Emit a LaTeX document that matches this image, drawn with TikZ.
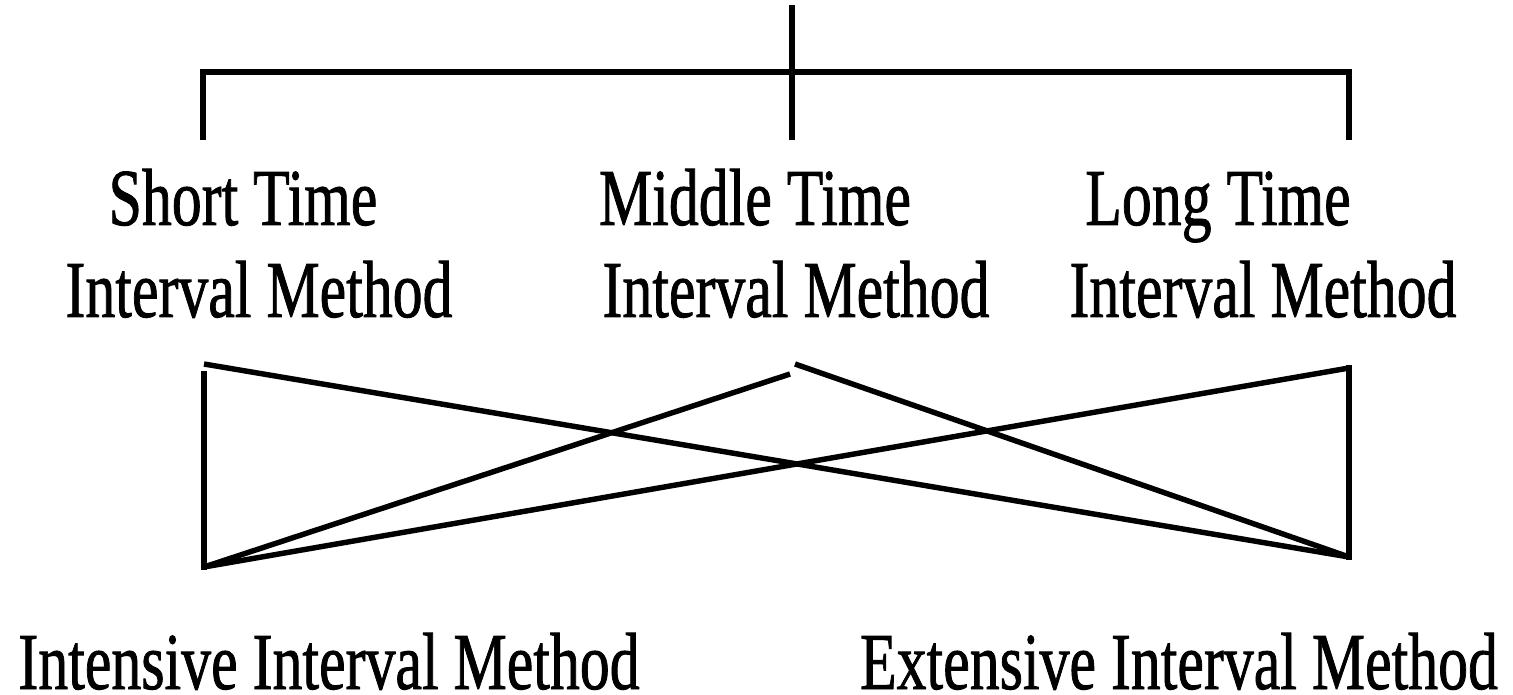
\documentclass[tikz,border=0pt]{standalone}
\usepackage{fontspec}
\setmainfont[FakeBold=1.2]{Liberation Serif}
\usepackage{graphicx}
\usetikzlibrary{calc}
\usetikzlibrary{positioning}

\newcommand{\narrowtxt}[1]{\scalebox{0.74}[1]{#1}}

\tikzset{
	bar/.style={line width=2.9pt, line cap=rect},
	cross/.style={line width=3.1pt},
	lbl/.style={inner sep=0pt, anchor=base, font=\fontsize{46}{50}\selectfont},
}

\begin{document}
\begin{tikzpicture}[x=0.02cm, y=-0.02cm]
			\useasboundingbox (0,0) rectangle (1513,695);

			% upper bracket
			\coordinate (top) at (792,8);
			\coordinate (hub) at (792,72);
			\coordinate (barL) at (203,72);
			\coordinate (barR) at (1349,72);
			\coordinate (legL) at (203,137);
			\coordinate (legM) at (792,137);
			\coordinate (legR) at (1349,137);
			\draw[bar] (legL) -- (barL) -- (barR) -- (legR);
			\draw[bar] (top) -- (legM);

			% time interval labels
			\node[lbl] (short1) at (243,225) {\narrowtxt{Short Time}};
			\node[lbl] (short2) at (259,317) {\narrowtxt{Interval Method}};
			\node[lbl] (middle1) at (755,225) {\narrowtxt{Middle Time}};
			\node[lbl] (middle2) at (796,317) {\narrowtxt{Interval Method}};
			\node[lbl] (long1) at (1218,225) {\narrowtxt{Long Time}};
			\node[lbl] (long2) at (1263,317) {\narrowtxt{Interval Method}};

			% crossing links
			\coordinate (shortA) at (204,364);
			\coordinate (shortV) at (204,374);
			\coordinate (middleB) at (790,374);
			\coordinate (middleD) at (795,364);
			\coordinate (longC) at (1349,368);
			\coordinate (intv) at (204,567);
			\coordinate (extv) at (1349,557);
			\draw[bar] (shortV) -- (intv);
			\draw[bar] (longC) -- (extv);
			\draw[cross] (shortA) -- (extv);
			\draw[cross] (intv) -- (middleB);
			\draw[cross] (intv) -- (longC);
			\draw[cross] (middleD) -- (extv);

			% method labels
			\node[lbl] (intensive) at (329,689) {\narrowtxt{Intensive Interval Method}};
			\node[lbl] (extensive) at (1179,689) {\narrowtxt{Extensive Interval Method}};
\end{tikzpicture}
\end{document}
